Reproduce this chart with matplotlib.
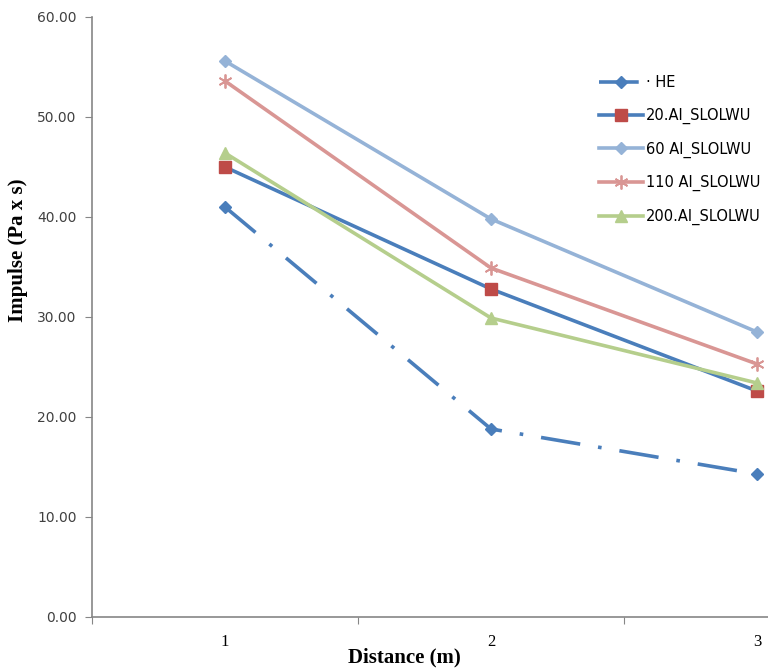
import numpy as np
import matplotlib.pyplot as plt

# impulse vs distance for each charge
distance = [1, 2, 3]
he = [41.0, 18.8, 14.3]
al_20 = [45.0, 32.8, 22.6]
al_60 = [55.6, 39.8, 28.5]
al_110 = [53.6, 34.9, 25.3]
al_200 = [46.4, 29.9, 23.4]

labels = ["\u00b7 HE", "20.AI_SLOLWU", "60 AI_SLOLWU", "110 AI_SLOLWU", "200.AI_SLOLWU"]
yticks = np.arange(0, 61, 10)

fig = plt.figure(figsize=(7.68, 6.71), dpi=100)
# the category axis runs past the right edge of the figure
ax = fig.add_axes([92 / 768, 54 / 671, 798 / 768, 600 / 671])

lw = 2.6
ax.plot(distance, he, color="#4A7EBB", lw=lw, dashes=(11, 5, 1, 5),
        marker="D", ms=6, label=labels[0])
ax.plot(distance, al_20, color="#4A7EBB", lw=lw, marker="s", ms=8,
        mfc="#BE4B48", mec="#BE4B48", label=labels[1])
ax.plot(distance, al_60, color="#95B3D7", lw=lw, marker="D", ms=6,
        label=labels[2])
ax.plot(distance, al_110, color="#D99694", lw=lw, marker=(6, 2, 0), ms=10,
        mew=1.3, label=labels[3])
ax.plot(distance, al_200, color="#B5CE8C", lw=lw, marker="^", ms=9,
        label=labels[4])

ax.set_xlim(0.5, 3.5)
ax.set_ylim(0, 60)

# major ticks sit between categories, labels sit on minor ticks
ax.set_xticks([0.5, 1.5, 2.5, 3.5])
ax.set_xticklabels([])
ax.set_xticks(distance, minor=True)
ax.set_xticklabels([str(d) for d in distance], minor=True,
                   fontfamily="Liberation Serif", fontsize=12)
ax.tick_params(axis="x", which="minor", length=0, pad=12)
ax.tick_params(axis="x", which="major", length=5, color="#868686")

ax.set_yticks(yticks)
ax.set_yticklabels([f"{v:.2f}" for v in yticks], fontsize=10, color="#404040")
ax.tick_params(axis="y", length=5, color="#868686", pad=6)

for side in ["top", "right"]:
    ax.spines[side].set_visible(False)
for side in ["left", "bottom"]:
    ax.spines[side].set_color("#868686")
    ax.spines[side].set_linewidth(1.2)

ax.set_xlabel("Distance (m)", fontfamily="Liberation Serif", fontweight="bold",
              fontsize=15, va="center")
ax.xaxis.set_label_coords((404 - 92) / 798, (617 - 657) / 600)
ax.set_ylabel("Impulse (Pa x s)", fontfamily="Liberation Serif", fontweight="bold",
              fontsize=15, va="center")
ax.yaxis.set_label_coords((18 - 92) / 798, (617 - 250) / 600)

ax.legend(loc="upper left", bbox_to_anchor=(586 / 768, 1 - 62 / 671),
          bbox_transform=fig.transFigure, frameon=False, fontsize=10.5,
          handlelength=3, labelspacing=1.2, handletextpad=0.2)

fig.savefig("out.png", dpi=100)
